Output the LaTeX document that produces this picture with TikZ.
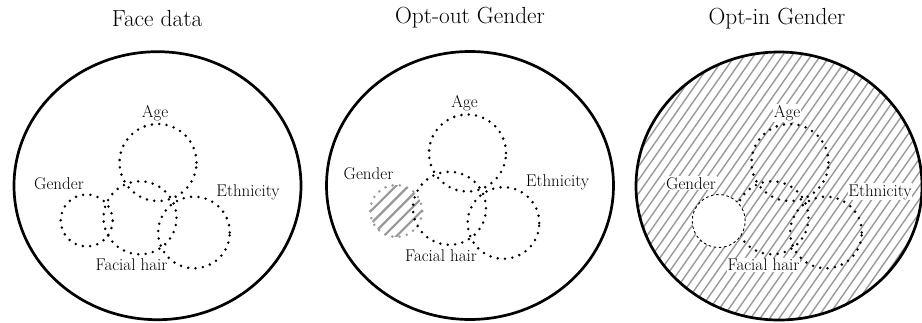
\documentclass[tikz,border=0pt]{standalone}
\tikzset{
  dotc/.style={line width=2.8pt, dash pattern=on 0pt off 7.4pt, line cap=round},
  bigell/.style={line width=2.7pt},
  lab/.style={font=\fontsize{17}{20}\selectfont, anchor=base, inner sep=0pt},
  ttl/.style={font=\fontsize{23.3}{27}\selectfont, anchor=base, inner sep=0pt},
  hatchline/.style={draw=black!40, line width=1.4pt},
  ghatch/.style={draw=black!40, line width=2.2pt},
  labbg/.style={fill=white, inner sep=0.8pt},
}
\newcommand{\venncircles}{%
  \draw[dotc] (158,162.5) circle[radius=38.5pt];
  \draw[dotc] (140,217.8) circle[radius=36.5pt];
  \draw[dotc] (194,232.5) circle[radius=35.8pt];
}
\newcommand{\vennlabels}[1]{%
  \node[lab,#1] (age) at (155,117.3) {Age};
  \node[lab,#1] (gender) at (59,189) {Gender};
  \node[lab,#1] (eth) at (248,196) {Ethnicity};
  \node[lab,#1] (hair) at (131.5,270.7) {Facial hair};
}
\begin{document}
\begin{tikzpicture}[x=1pt,y=-1pt]
\useasboundingbox (0,0) rectangle (922,322);
% ---------- Panel 1
\node[ttl] (t1) at (157,26) {Face data};
\begin{scope}[name prefix=a-]
  \venncircles
  \draw[dotc] (86.7,220.5) circle[radius=26pt];
  \vennlabels{}
\end{scope}
\draw[bigell] (157.5,185.7) ellipse[x radius=143.5pt, y radius=134pt];
% ---------- Panel 2
\node[ttl] (t2) at (470,23.5) {Opt-out Gender};
\begin{scope}[shift={(309.5,-9.5)}, name prefix=b-]
  \begin{scope}
    \clip (86.7,220.5) circle[radius=26pt];
    \foreach \i in {-4,...,4}
      \draw[ghatch] (86.7+\i*12.7-40,220.5+40) -- ++(80,-80);
  \end{scope}
  \draw[dotc, draw=black!40] (86.7,220.5) circle[radius=26pt];
  \venncircles
  \vennlabels{}
\end{scope}
\draw[bigell] (470,185.5) ellipse[x radius=143.5pt, y radius=134pt];
% ---------- Panel 3
\node[ttl] (t3) at (777,24) {Opt-in Gender};
\begin{scope}
  \clip (779,186) ellipse[x radius=143pt, y radius=134pt];
  \foreach \i in {-40,...,40}
    \draw[hatchline] (600+\i*9.5,330) -- ++(196,-280);
\end{scope}
\begin{scope}[shift={(632,0)}, name prefix=c-]
  \venncircles
  \draw[fill=white, line width=0.9pt, dash pattern=on 2.6pt off 2.6pt] (86.7,221) circle[radius=26.5pt];
  \vennlabels{labbg}
\end{scope}
\draw[bigell] (779,186) ellipse[x radius=143pt, y radius=134pt];
\end{tikzpicture}
\end{document}
